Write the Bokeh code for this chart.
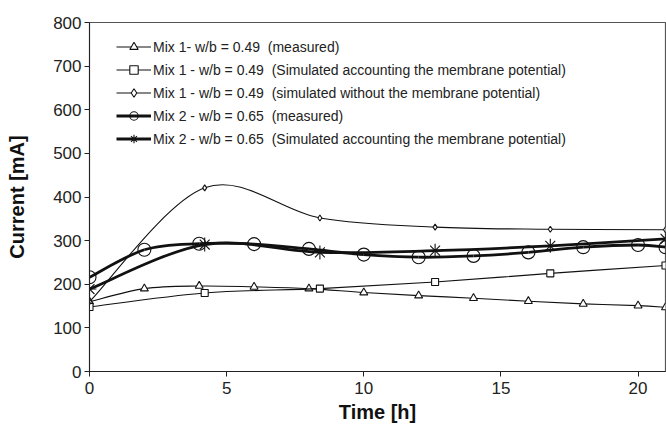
import numpy as np
from bokeh.plotting import figure
from bokeh.models import ColumnDataSource, Legend, LegendItem, Range1d, FixedTicker
from bokeh.embed import file_html
from bokeh.resources import INLINE

# ---- data ----
t_meas = [0, 2, 4, 6, 8, 10, 12, 14, 16, 18, 20, 21]
t_sim = [0, 4.2, 8.4, 12.6, 16.8, 21]

mix1_measured = [160, 190, 196, 194, 190, 181, 174, 168, 161, 155, 151, 147]
mix1_sim_membrane = [148, 180, 190, 205, 225, 243]
mix1_sim_without = [160, 421, 352, 331, 326, 325]
mix2_measured = [216, 279, 293, 292, 281, 268, 262, 265, 273, 285, 290, 285]
mix2_sim_membrane = [189, 291, 273, 277, 288, 304]

labels = [
    "Mix 1- w/b = 0.49  (measured)",
    "Mix 1 - w/b = 0.49  (Simulated accounting the membrane potential)",
    "Mix 1 - w/b = 0.49  (simulated without the membrane potential)",
    "Mix 2 - w/b = 0.65  (measured)",
    "Mix 2 - w/b = 0.65  (Simulated accounting the membrane potential)",
]
x_ticks = [0, 5, 10, 15, 20]
y_ticks = [0, 100, 200, 300, 400, 500, 600, 700, 800]

FONT = "Liberation Sans"

p = figure(width=666, height=427, output_backend="svg", toolbar_location=None,
           x_range=Range1d(0, 21), y_range=Range1d(0, 800),
           min_border_left=89, min_border_right=1, min_border_top=22, min_border_bottom=56)
p.background_fill_color = "white"
p.border_fill_color = "white"
p.outline_line_color = "#555555"
p.outline_line_width = 1.2
p.xgrid.visible = False
p.ygrid.visible = False

for ax in (p.xaxis[0], p.yaxis[0]):
    ax.axis_line_color = "#222222"
    ax.major_tick_line_color = "#222222"
    ax.minor_tick_line_color = None
    ax.major_tick_out = 5
    ax.major_tick_in = 0
    ax.major_label_text_font = FONT
    ax.major_label_text_font_size = "17px"
    ax.major_label_text_color = "#222222"
    ax.axis_label_text_font = FONT
    ax.axis_label_text_font_size = "20px"
    ax.axis_label_text_font_style = "bold"
    ax.axis_label_text_color = "#111111"
p.xaxis.ticker = FixedTicker(ticks=x_ticks)
p.yaxis.ticker = FixedTicker(ticks=y_ticks)
p.xaxis.axis_label = "Time [h]"
p.yaxis.axis_label = "Current [mA]"
p.xaxis.major_label_standoff = 5
p.yaxis.major_label_standoff = 3
p.xaxis.axis_label_standoff = 4
p.yaxis.axis_label_standoff = 22


def smooth(xs, ys):
    """Catmull-Rom style bezier segments through the data points."""
    x = np.asarray(xs, float)
    y = np.asarray(ys, float)
    n = len(x)
    xp = np.concatenate([[x[0]], x, [x[-1]]])
    yp = np.concatenate([[y[0]], y, [y[-1]]])
    d = dict(x0=[], y0=[], x1=[], y1=[], cx0=[], cy0=[], cx1=[], cy1=[])
    for i in range(n - 1):
        p0x, p0y = xp[i], yp[i]
        p1x, p1y = xp[i + 1], yp[i + 1]
        p2x, p2y = xp[i + 2], yp[i + 2]
        p3x, p3y = xp[i + 3], yp[i + 3]
        d["x0"].append(p1x); d["y0"].append(p1y)
        d["x1"].append(p2x); d["y1"].append(p2y)
        d["cx0"].append(p1x + (p2x - p0x) / 6); d["cy0"].append(p1y + (p2y - p0y) / 6)
        d["cx1"].append(p2x - (p3x - p1x) / 6); d["cy1"].append(p2y - (p3y - p1y) / 6)
    return ColumnDataSource(d)


series = [
    (t_meas, mix1_measured, 1.1, "triangle", 8, "white"),
    (t_sim, mix1_sim_membrane, 1.1, "square", 7, "white"),
    (t_sim, mix1_sim_without, 1.1, "diamond", 6, "white"),
    (t_meas, mix2_measured, 2.8, "circle", 13, None),
    (t_sim, mix2_sim_membrane, 2.8, "asterisk", 14, None),
]

items = []
for (xs, ys, lw, mk, sz, fill), lab in zip(series, labels):
    src = smooth(xs, ys)
    p.bezier(x0="x0", y0="y0", x1="x1", y1="y1", cx0="cx0", cy0="cy0",
             cx1="cx1", cy1="cy1", source=src, line_color="#111111", line_width=lw)
    p.scatter(xs, ys, marker=mk, size=sz, line_color="#111111",
              fill_color=fill, fill_alpha=1 if fill else 0, line_width=1.1)
    # legend sample renderers (a single non-plotted point, only appearance)
    lr = p.line(x=[float("nan")], y=[float("nan")], line_color="#111111", line_width=lw)
    sr = p.scatter(x=[float("nan")], y=[float("nan")], marker=mk, size=sz * 0.8,
                   line_color="#111111", fill_color=fill,
                   fill_alpha=1 if fill else 0, line_width=1.1)
    items.append(LegendItem(label=lab, renderers=[lr, sr]))

legend = Legend(items=items, location=(27, 222), margin=0, padding=4,
                glyph_width=35, glyph_height=21, label_height=21, spacing=2,
                label_standoff=2, label_text_font=FONT, label_text_font_size="14px",
                label_text_color="#222222", background_fill_alpha=0,
                border_line_color=None)
p.add_layout(legend, "center")

open("out.html", "w").write(file_html(p, INLINE))
